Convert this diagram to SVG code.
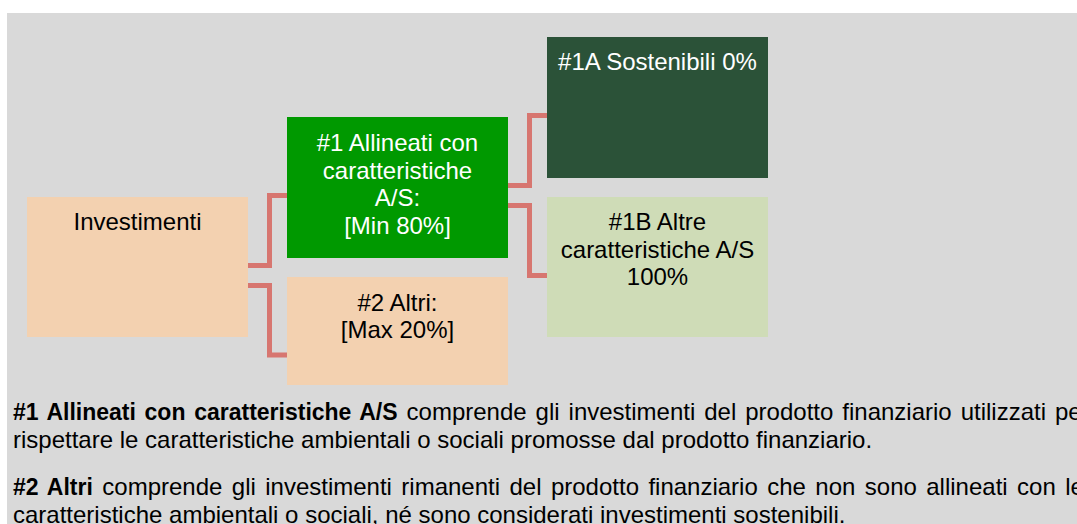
<svg xmlns="http://www.w3.org/2000/svg" width="1077" height="524" viewBox="0 0 1077 524">
<style>
text{font-family:"Liberation Sans",Arial,sans-serif;font-size:24px;}
.c{text-anchor:middle;}
.w{fill:#ffffff;}
.k{fill:#000000;}
.b{font-weight:bold;font-size:23px;}
.conn{fill:none;stroke:#d77670;stroke-width:5;stroke-linejoin:miter;stroke-linecap:butt;}
</style>
<rect x="0" y="0" width="1077" height="524" fill="#ffffff"/>
<rect x="7" y="13" width="1070" height="511" fill="#d9d9d9"/>
<g id="connectors">
<path class="conn" d="M247,265.5 H269.5 V195.5 H287"/>
<path class="conn" d="M247,285.5 H269.5 V355 H287"/>
<path class="conn" d="M508,185.5 H529.5 V115.5 H547"/>
<path class="conn" d="M508,205.5 H529.5 V275.5 H547"/>
</g>
<g id="investimenti">
<rect x="27" y="197" width="221" height="140" fill="#f3d1b0"/>
<text class="c k" x="137.5" y="230">Investimenti</text>
</g>
<g id="allineati">
<rect x="287" y="117" width="221" height="141" fill="#009900"/>
<text class="c w" x="397.5" y="151">#1 Allineati con</text>
<text class="c w" x="397.5" y="178.5">caratteristiche</text>
<text class="c w" x="397.5" y="206">A/S:</text>
<text class="c w" x="397.5" y="233.5">[Min 80%]</text>
</g>
<g id="altri">
<rect x="287" y="277" width="221" height="108" fill="#f3d1b0"/>
<text class="c k" x="397.5" y="310.5">#2 Altri:</text>
<text class="c k" x="397.5" y="338">[Max 20%]</text>
</g>
<g id="sostenibili">
<rect x="547" y="37" width="221" height="141" fill="#2b5238"/>
<text class="c w" x="657.5" y="70">#1A Sostenibili 0%</text>
</g>
<g id="altre">
<rect x="547" y="197" width="221" height="140" fill="#cfdcb7"/>
<text class="c k" x="657.5" y="230">#1B Altre</text>
<text class="c k" x="657.5" y="257.5">caratteristiche A/S</text>
<text class="c k" x="657.5" y="285">100%</text>
</g>
<g id="legend">
<text class="k" x="13" y="420" word-spacing="2.3"><tspan class="b">#1 Allineati con caratteristiche A/S</tspan> comprende gli investimenti del prodotto finanziario utilizzati per</text>
<text class="k" x="13" y="447.5">rispettare le caratteristiche ambientali o sociali promosse dal prodotto finanziario.</text>
<text class="k" x="13" y="495" word-spacing="2.75"><tspan class="b">#2 Altri</tspan> comprende gli investimenti rimanenti del prodotto finanziario che non sono allineati con le</text>
<text class="k" x="13" y="522.5">caratteristiche ambientali o sociali, né sono considerati investimenti sostenibili.</text>
</g>
</svg>
